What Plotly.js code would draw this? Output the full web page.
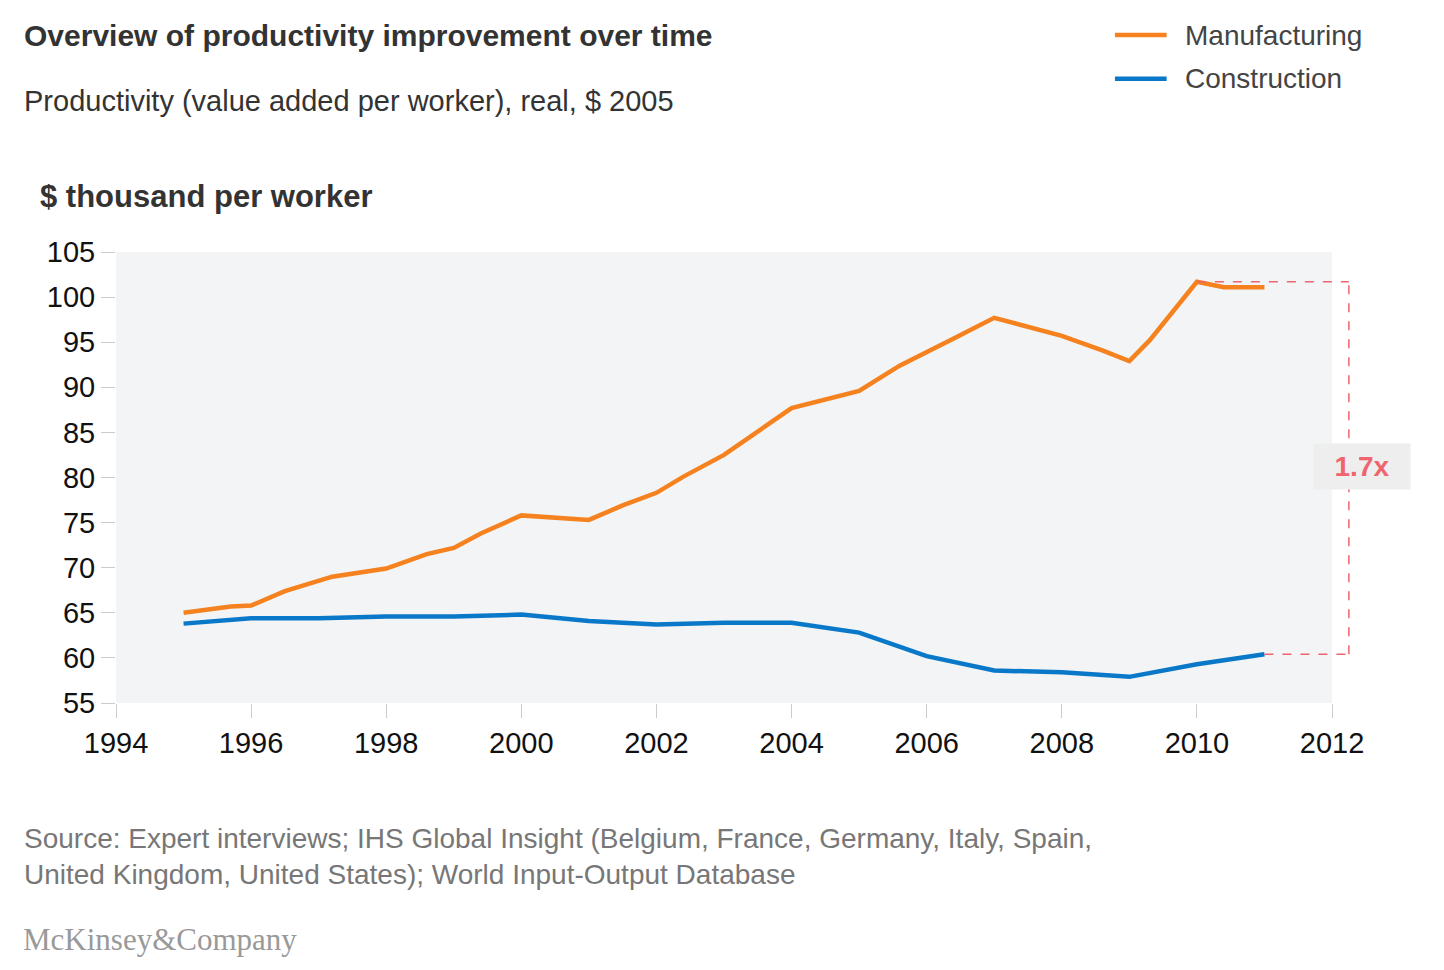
<!DOCTYPE html>
<html><head><meta charset="utf-8">
<script src="https://cdn.plot.ly/plotly-3.0.1.min.js"></script>
<style>body{margin:0;background:#fff}#chart{width:1444px;height:970px}</style>
</head><body><div id="chart"></div>
<script>
// manufacturing productivity, $ thousand per worker
var mfgYears = [1995, 1995.7, 1996, 1996.5, 1997.2, 1998, 1998.6, 1999, 1999.4, 2000, 2001, 2001.5, 2002, 2002.4, 2003, 2004, 2005, 2005.6, 2006.4, 2007, 2008, 2008.6, 2009, 2009.3, 2010, 2010.4, 2011];
var mfgVals  = [65.0, 65.7, 65.8, 67.4, 69.0, 69.9, 71.5, 72.2, 73.8, 75.8, 75.3, 76.9, 78.3, 80.1, 82.5, 87.7, 89.6, 92.4, 95.4, 97.7, 95.7, 94.1, 92.9, 95.2, 101.7, 101.1, 101.1];
var conYears = [1995, 1996, 1997, 1998, 1999, 2000, 2001, 2002, 2003, 2004, 2005, 2006, 2007, 2008, 2009, 2010, 2011];
var conVals  = [63.8, 64.4, 64.4, 64.6, 64.6, 64.8, 64.1, 63.7, 63.9, 63.9, 62.8, 60.2, 58.6, 58.4, 57.9, 59.3, 60.4];
var yTicks = [55, 60, 65, 70, 75, 80, 85, 90, 95, 100, 105];
var xTicks = [1994, 1996, 1998, 2000, 2002, 2004, 2006, 2008, 2010, 2012];
var seriesNames = ['Manufacturing', 'Construction'];
var seriesColors = ['#f5821f', '#0a78c8'];

var font = 'Liberation Sans, Arial, sans-serif';
var red = '#f0646e';
var xMin = 1994, xMax = 2012;
var bracketX = 2012.25;
function px(year) { return (year - xMin) / (xMax - xMin); } // year -> paper fraction (bracket sits outside the axis range)

var data = [
  {x: mfgYears, y: mfgVals, name: seriesNames[0], type: 'scatter', mode: 'lines',
   line: {color: seriesColors[0], width: 4.5}},
  {x: conYears, y: conVals, name: seriesNames[1], type: 'scatter', mode: 'lines',
   line: {color: seriesColors[1], width: 4.5}}
];

var conEnd = conVals[conVals.length - 1];
var mfgPeak = 101.7;
var shapes = [
  {type: 'line', xref: 'paper', yref: 'y', x0: px(2010), x1: px(bracketX), y0: mfgPeak, y1: mfgPeak, line: {color: red, width: 1.5, dash: 'dash'}},
  {type: 'line', xref: 'paper', yref: 'y', x0: px(2011), x1: px(bracketX), y0: conEnd, y1: conEnd, line: {color: red, width: 1.5, dash: 'dash'}},
  {type: 'line', xref: 'paper', yref: 'y', x0: px(bracketX), x1: px(bracketX), y0: conEnd, y1: mfgPeak, line: {color: red, width: 1.5, dash: 'dash'}}
];
var annotations = [
  {text: '<b>Overview of productivity improvement over time</b>', xref: 'paper', yref: 'paper', x: -0.077, y: 1.479,
   xanchor: 'left', yanchor: 'middle', showarrow: false, font: {size: 30, color: '#333'}},
  {text: 'Productivity (value added per worker), real, $ 2005', xref: 'paper', yref: 'paper', x: -0.077, y: 1.335,
   xanchor: 'left', yanchor: 'middle', showarrow: false, font: {size: 29, color: '#333'}},
  {text: '<b>$ thousand per worker</b>', xref: 'paper', yref: 'paper', x: -0.064, y: 1.124,
   xanchor: 'left', yanchor: 'middle', showarrow: false, font: {size: 31, color: '#333'}},
  {text: '<b>1.7x</b>', x: 1.065, y: 81.2, xref: 'paper', yref: 'y', showarrow: false,
   bgcolor: '#eeeeee', font: {size: 28, color: red}, width: 94, height: 43},
  {text: 'Source: Expert interviews; IHS Global Insight (Belgium, France, Germany, Italy, Spain,<br>United Kingdom, United States); World Input-Output Database',
   xref: 'paper', yref: 'paper', x: -0.077, y: -0.262, xanchor: 'left', yanchor: 'top', align: 'left',
   showarrow: false, font: {size: 28, color: '#777'}},
  {text: 'McKinsey&Company', xref: 'paper', yref: 'paper', x: -0.078, y: -0.525, xanchor: 'left', yanchor: 'middle',
   showarrow: false, font: {family: 'Liberation Serif, DejaVu Serif, serif', size: 31, color: '#999'}}
];
// legend drawn by hand so it sits in the header
var legendY = [1.481, 1.384];
for (var i = 0; i < seriesNames.length; i++) {
  shapes.push({type: 'line', xref: 'paper', yref: 'paper', x0: 0.8215, x1: 0.864, y0: legendY[i], y1: legendY[i],
               line: {color: seriesColors[i], width: 4.5}});
  annotations.push({text: seriesNames[i], xref: 'paper', yref: 'paper', x: 0.8775, y: legendY[i],
                    xanchor: 'left', yanchor: 'middle', showarrow: false, font: {size: 28, color: '#444'}});
}

var layout = {
  width: 1444, height: 970,
  margin: {l: 116, r: 112, t: 252, b: 267},
  paper_bgcolor: '#fff', plot_bgcolor: '#f3f4f5',
  font: {family: font, color: '#222'},
  showlegend: false,
  xaxis: {range: [xMin, xMax], tickvals: xTicks, showgrid: false, zeroline: false,
          ticks: 'outside', ticklen: 14, tickcolor: '#ccc', tickfont: {size: 29, color: '#111'},
          showline: false},
  yaxis: {range: [55, 105], tickvals: yTicks, showgrid: false, zeroline: false,
          ticks: 'outside', ticklen: 14, tickcolor: '#ccc', tickfont: {size: 29, color: '#111'}},
  shapes: shapes,
  annotations: annotations
};

Plotly.newPlot('chart', data, layout, {displayModeBar: false});
</script></body></html>
